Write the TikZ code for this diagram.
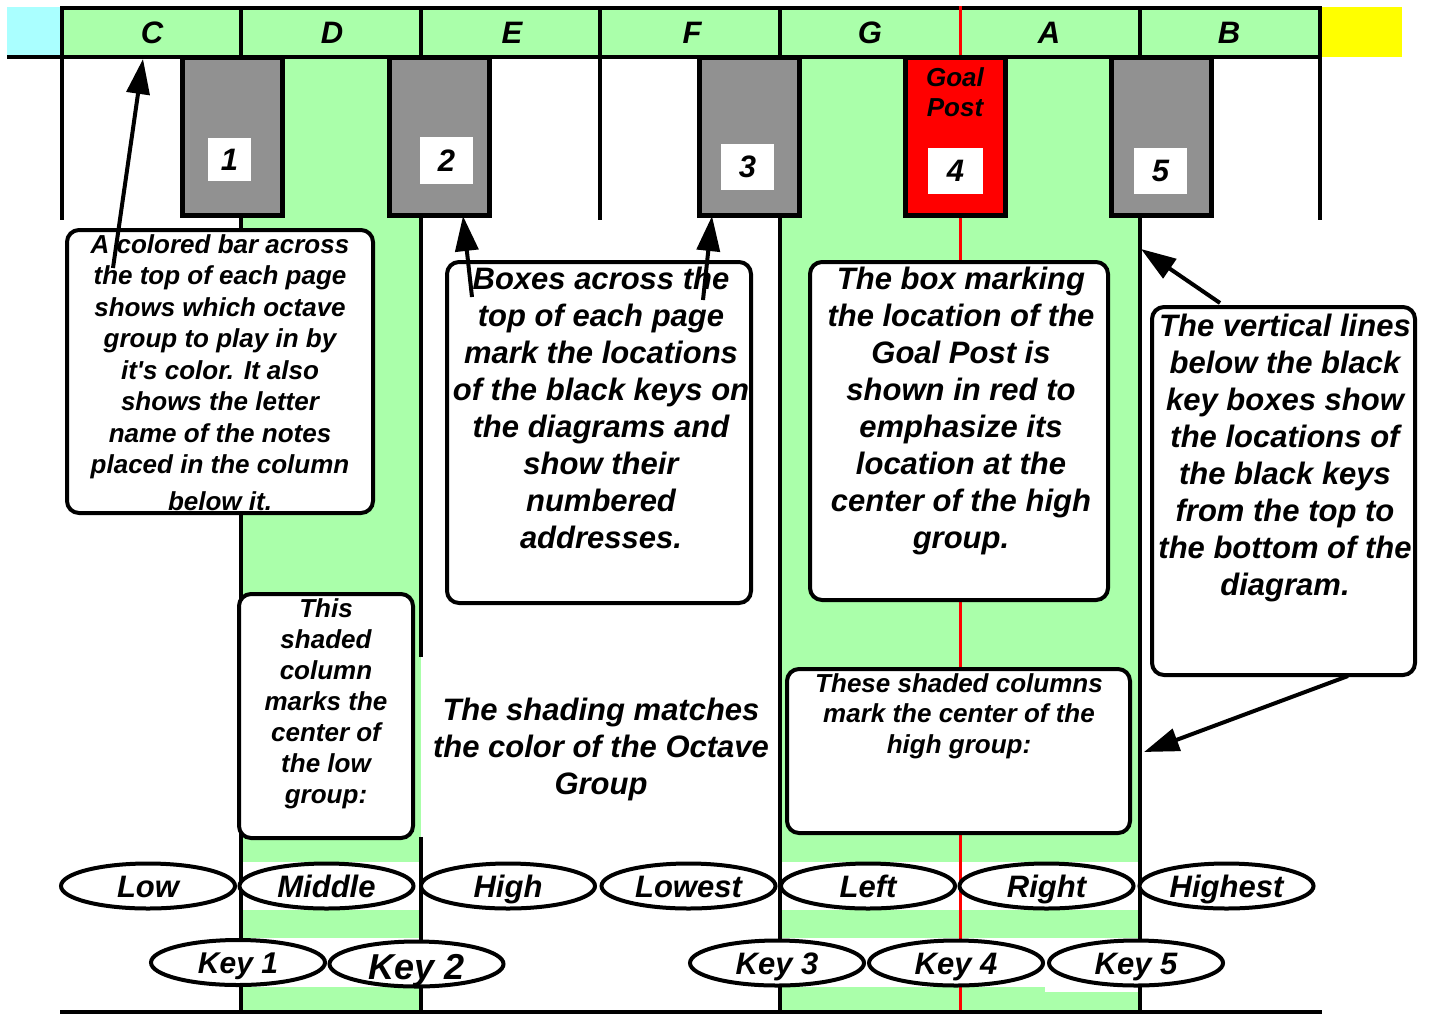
\documentclass[tikz,border=0pt]{standalone}
\usepackage{fontspec}
\setmainfont{Liberation Sans}[Ligatures=TeXOff]
\usetikzlibrary{arrows.meta,shapes.geometric}
\definecolor{pgreen}{HTML}{AAFFAA}
\definecolor{pcyan}{HTML}{AAFFFF}
\definecolor{pyellow}{HTML}{FFFF00}
\definecolor{pgray}{HTML}{919191}
\definecolor{pred}{HTML}{FF0000}
\newcommand\bi[2]{\fontsize{#1pt}{#2pt}\selectfont\bfseries\itshape}
\newcommand\ovtext[2][11]{\smash{\raisebox{-#1pt}{#2}}}
\begin{document}
\begin{tikzpicture}[x=1pt,y=-1pt,
  gline/.style={line width=4.5pt},
  keybox/.style={draw=black, line width=5pt, fill=pgray, minimum width=100pt, minimum height=158pt, inner sep=0pt},
  numbox/.style={fill=white, inner sep=0pt, font=\bi{31}{37}},
  callout/.style={draw=black, line width=4pt, fill=white, rounded corners=12pt, inner sep=0pt},
  lbl/.style={align=center, inner sep=0pt, anchor=north},
  oval/.style={ellipse, draw=black, line width=4pt, fill=white, minimum width=174pt, minimum height=45pt, inner sep=0pt, font=\bi{31}{37}},
  pointer/.style={line width=4pt, -{Triangle[length=35pt,width=23pt]}},
  hdr/.style={anchor=base, inner sep=0pt, font=\bi{31}{37}},
]
\fill[white] (0,0) rectangle (1432,1015);
\useasboundingbox (0,0) rectangle (1432,1015);

% colour bars and shaded columns
\fill[pgreen] (62,8) rectangle (1320,57);
\fill[pcyan] (7,7) rectangle (60,55);
\fill[pyellow] (1321,7) rectangle (1402,57);
\fill[pgreen] (241,57) rectangle (421,862);
\fill[pgreen] (241,910) rectangle (421,938);
\fill[pgreen] (241,987) rectangle (421,1010);
\fill[pgreen] (780,57) rectangle (1140,862);
\fill[pgreen] (780,910) rectangle (1140,938);
\fill[pgreen] (780,987) rectangle (1045,1010);
\fill[pgreen] (1045,992) rectangle (1140,1010);

% grid lines
\draw[gline] (60,8) -- (1322,8);
\draw[gline] (7,57) -- (1322,57);
\draw[gline] (60,1012) -- (1322,1012);
\draw[gline] (62,6) -- (62,220);
\draw[gline] (241,6) -- (241,1012);
\draw[gline] (421,6) -- (421,657);
\draw[gline] (421,837) -- (421,1012);
\draw[gline] (600,6) -- (600,220);
\draw[gline] (780,6) -- (780,1012);
\draw[gline] (1140,6) -- (1140,1012);
\draw[gline] (1320,6) -- (1320,220);
\draw[pred, line width=3pt] (960,6) -- (960,1010);

% header letters
\node[hdr] (hC) at (152,43) {C};
\node[hdr] (hD) at (332,43) {D};
\node[hdr] (hE) at (512,43) {E};
\node[hdr] (hF) at (692,43) {F};
\node[hdr] (hG) at (870,43) {G};
\node[hdr] (hA) at (1049,43) {A};
\node[hdr] (hB) at (1229,43) {B};

% black key boxes
\node[keybox] (k1) at (232.5,136) {};
\node[keybox] (k2) at (439.5,136) {};
\node[keybox] (k3) at (749,136) {};
\node[keybox, fill=pred] (k4) at (955.5,136) {};
\node[keybox] (k5) at (1161.5,136) {};
\node[lbl, font=\bi{26}{30}] (goal) at (955,67) {Goal\\Post};

\node[numbox, minimum width=43pt, minimum height=43pt] (n1) at (229.5,159.5) {1\hspace{5pt}};
\node[numbox, minimum width=53pt, minimum height=47pt] (n2) at (446.5,160.5) {2\hspace{14pt}};
\node[numbox, minimum width=53pt, minimum height=46pt] (n3) at (747.5,167) {3\hspace{12pt}};
\node[numbox, minimum width=55pt, minimum height=46pt] (n4) at (955.5,171) {4\hspace{12pt}};
\node[numbox, minimum width=53pt, minimum height=46pt] (n5) at (1160.5,171) {5\hspace{14pt}};

% callout boxes
\node[callout, minimum width=306pt, minimum height=283pt] (bA) at (220,371.5) {};
\node[lbl, font=\bi{26}{31.5}] (tA) at (220,234) {A colored bar across\\the top of each page\\shows which octave\\group to play in by\\it's color. It also\\shows the letter\\name of the notes\\placed in the column\\[5pt]below it.};

\node[callout, minimum width=304pt, minimum height=341pt] (bB) at (599,432.5) {};
\node[lbl, font=\bi{31}{37}] (tB) at (601,267) {Boxes across the\\top of each page\\mark the locations\\of the black keys on\\the diagrams and\\show their\\numbered\\addresses.};

\node[callout, minimum width=298pt, minimum height=338pt] (bC) at (959,431) {};
\node[lbl, font=\bi{31}{37}] (tC) at (961,267) {The box marking\\the location of the\\Goal Post is\\shown in red to\\emphasize its\\location at the\\center of the high\\group.};

\node[callout, minimum width=263pt, minimum height=368pt] (bD) at (1283.5,491) {};
\node[lbl, font=\bi{31}{37}] (tD) at (1285,314) {The vertical lines\\below the black\\key boxes show\\the locations of\\the black keys\\from the top to\\the bottom of the\\diagram.};

\node[callout, minimum width=174pt, minimum height=244pt] (bE) at (326,716) {};
\node[lbl, font=\bi{26}{31}] (tE) at (326,598) {This\\shaded\\column\\marks the\\center of\\the low\\group:};

\node[callout, minimum width=343pt, minimum height=164pt] (bF) at (958.5,751) {};
\node[lbl, font=\bi{26}{30.5}] (tF) at (959,673) {These shaded columns\\mark the center of the\\high group:};

\node[lbl, font=\bi{31}{37}] (tG) at (601,698) {The shading matches\\the color of the Octave\\Group};

% ovals
\node[oval] (oLow) at (148,886) {\ovtext{Low}};
\node[oval] (oMid) at (326.5,886) {\ovtext{Middle}};
\node[oval] (oHigh) at (508,886) {\ovtext{High}};
\node[oval] (oLowest) at (688.5,886) {\ovtext{Lowest}};
\node[oval] (oLeft) at (868,886) {\ovtext{Left}};
\node[oval] (oRight) at (1046.5,886) {\ovtext{Right}};
\node[oval] (oHighest) at (1226.5,886) {\ovtext{Highest}};

\node[oval, font=\bi{30}{36}] (key1) at (238,962.5) {\ovtext{Key 1}};
\node[oval, font=\bi{36}{42}] (key2) at (416.5,964) {\ovtext[15]{Key 2}};
\node[oval] (key3) at (777,963) {\ovtext{Key 3}};
\node[oval] (key4) at (956,963) {\ovtext{Key 4}};
\node[oval] (key5) at (1136,963) {\ovtext{Key 5}};

% pointers
\coordinate (tailA) at (113,268);
\coordinate (tipA) at (143,59);
\coordinate (tailB1) at (472,297);
\coordinate (tipB1) at (463,216);
\coordinate (tailB2) at (703,300);
\coordinate (tipB2) at (712,216);
\coordinate (tailD1) at (1220,303);
\coordinate (tipD1) at (1141,249);
\coordinate (tailD2) at (1348,676);
\coordinate (tipD2) at (1144,752);
\draw[pointer] (tailA) -- (tipA);
\draw[pointer] (tailB1) -- (tipB1);
\draw[pointer] (tailB2) -- (tipB2);
\draw[pointer] (tailD1) -- (tipD1);
\draw[pointer] (tailD2) -- (tipD2);
\end{tikzpicture}
\end{document}
